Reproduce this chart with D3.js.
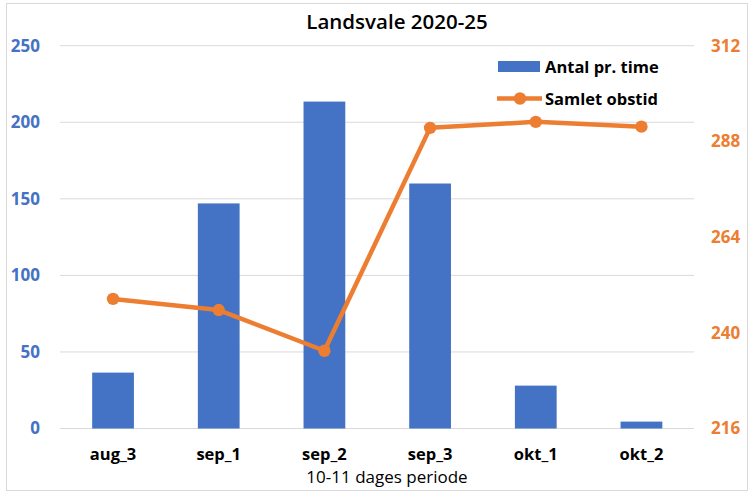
<!DOCTYPE html>
<html><head><meta charset="utf-8">
<script src="https://cdn.jsdelivr.net/npm/d3@7"></script>
<style>body{margin:0;background:#fff}svg{display:block}text{font-family:"Open Sans","Noto Sans",sans-serif}</style>
</head><body><svg id="c" width="756" height="501"></svg>
<script>
const categories = ["aug_3","sep_1","sep_2","sep_3","okt_1","okt_2"];
const antal = [36.5, 147, 213.5, 160, 28, 4.5];
const obstid = [248.5, 245.7, 235.5, 291.4, 292.9, 291.7];
const leftTicks = [0,50,100,150,200,250];
const rightTicks = [216,240,264,288,312];
const title = "Landsvale 2020-25";
const xTitle = "10-11 dages periode";
const seriesNames = ["Antal pr. time","Samlet obstid"];

const blue = "#4472C4", orange = "#ED7D31";
const svg = d3.select("#c");
svg.append("rect").attr("x",6.5).attr("y",3.5).attr("width",741).attr("height",487)
  .attr("fill","#fff").attr("stroke","#d9d9d9");

const x = d3.scaleBand().domain(categories).range([60.2,694.3]).paddingInner(0.605).paddingOuter(0.3025);
const yL = d3.scaleLinear().domain([0,250]).range([428.5,45.7]);
const yR = d3.scaleLinear().domain([216,312]).range([428.5,45.7]);

// gridlines
svg.append("g").selectAll("line").data(leftTicks).join("line")
  .attr("x1",60).attr("x2",694).attr("y1",d=>yL(d)).attr("y2",d=>yL(d))
  .attr("stroke","#d9d9d9").attr("stroke-width",1);

// bars
svg.append("g").selectAll("rect").data(antal).join("rect")
  .attr("x",(d,i)=>x(categories[i])).attr("width",x.bandwidth())
  .attr("y",d=>yL(d)).attr("height",d=>yL(0)-yL(d)).attr("fill",blue);

// line
const cx = c => x(c)+x.bandwidth()/2;
svg.append("path").datum(obstid)
  .attr("d", d3.line().x((d,i)=>cx(categories[i])).y(d=>yR(d)))
  .attr("fill","none").attr("stroke",orange).attr("stroke-width",4.5).attr("stroke-linejoin","round");
svg.append("g").selectAll("circle").data(obstid).join("circle")
  .attr("cx",(d,i)=>cx(categories[i])).attr("cy",d=>yR(d)).attr("r",6.2).attr("fill",orange);

// left axis
const axL = d3.axisLeft(yL).tickValues(leftTicks).tickSize(0).tickPadding(0);
const gL = svg.append("g").attr("transform","translate(40,0)").call(axL);
gL.select(".domain").remove();
gL.selectAll("text").attr("fill",blue).attr("font-size",17).attr("font-weight","bold");

// right axis
const axR = d3.axisRight(yR).tickValues(rightTicks).tickSize(0).tickPadding(0);
const gR = svg.append("g").attr("transform","translate(711,0)").call(axR);
gR.select(".domain").remove();
gR.selectAll("text").attr("fill",orange).attr("font-size",17).attr("font-weight","bold");

// x axis
const axX = d3.axisBottom(x).tickSize(0).tickPadding(0);
const gX = svg.append("g").attr("transform","translate(0,448)").call(axX);
gX.select(".domain").remove();
gX.selectAll("text").attr("fill","#000").attr("font-size",16.5).attr("font-weight","bold");

svg.append("text").attr("x",387).attr("y",483).attr("text-anchor","middle")
  .attr("font-size",17).attr("fill","#000").text(xTitle);
svg.append("text").attr("x",397).attr("y",29).attr("text-anchor","middle")
  .attr("font-size",20.5).attr("font-weight",600).attr("fill","#000").text(title);

// legend
const lg = svg.append("g");
lg.append("rect").attr("x",498).attr("y",61).attr("width",42).attr("height",11).attr("fill",blue);
lg.append("text").attr("x",545).attr("y",72.5).attr("font-size",16.5).attr("font-weight","bold").text(seriesNames[0]);
lg.append("line").attr("x1",497).attr("x2",542).attr("y1",98.5).attr("y2",98.5).attr("stroke",orange).attr("stroke-width",4.5);
lg.append("circle").attr("cx",520).attr("cy",98.5).attr("r",6.2).attr("fill",orange);
lg.append("text").attr("x",545).attr("y",104.5).attr("font-size",16.5).attr("font-weight","bold").text(seriesNames[1]);
</script></body></html>
